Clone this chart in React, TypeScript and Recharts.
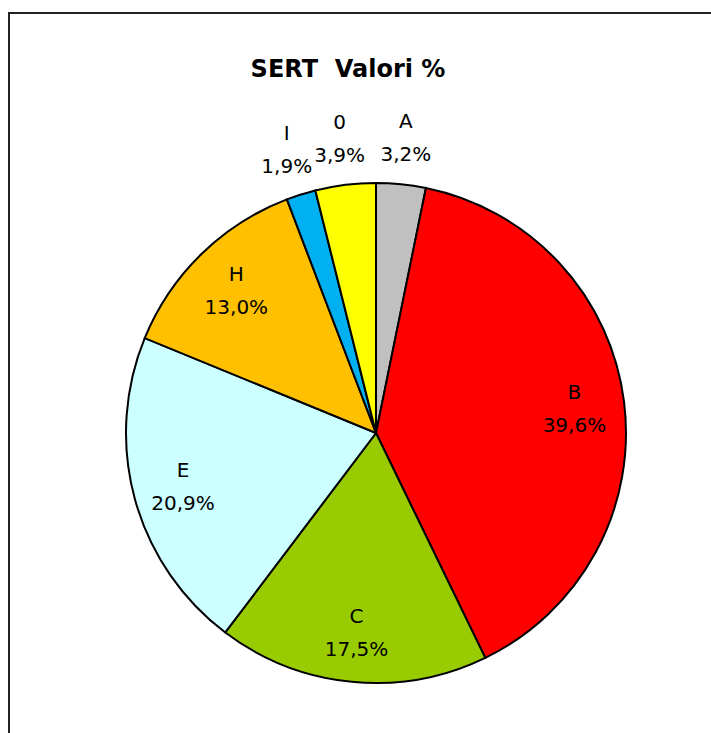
import React from "react";
import { PieChart, Pie, Cell } from "recharts";

const categories = ["A", "B", "C", "E", "H", "I", "0"];
const values = [3.2, 39.6, 17.5, 20.9, 13.0, 1.9, 3.9];
const colors = ["#C0C0C0", "#FF0000", "#99CC00", "#CCFFFF", "#FFC000", "#00B0F0", "#FFFF00"];

const data = categories.map((name, i) => ({ name, value: values[i] }));

const FONT = "'DejaVu Sans', sans-serif";
const RAD = Math.PI / 180;

const renderLabel = (props: any) => {
  const { cx, cy, midAngle, outerRadius, percent, name } = props;
  const r = percent < 0.05 ? outerRadius * 1.19 : outerRadius * 0.8;
  const x = cx + r * Math.cos(-midAngle * RAD);
  const y = cy + r * Math.sin(-midAngle * RAD);
  const pct = (percent * 100).toFixed(1).replace(".", ",") + "%";
  return (
    <text
      x={x}
      y={y}
      textAnchor="middle"
      fontFamily={FONT}
      fontSize={20}
      fill="#000"
    >
      <tspan x={x} dy={-9}>{name}</tspan>
      <tspan x={x} dy={33}>{pct}</tspan>
    </text>
  );
};

export default function App() {
  return (
    <div
      style={{
        position: "fixed",
        left: 0,
        top: 0,
        width: 711,
        height: 733,
        overflow: "hidden",
        background: "#fff",
      }}
    >
      <div
        style={{
          position: "absolute",
          left: 8,
          top: 12,
          width: 800,
          height: 800,
          border: "2px solid #222",
          boxSizing: "border-box",
        }}
      />
      <div
        style={{
          position: "absolute",
          left: 198,
          width: 300,
          top: 55,
          textAlign: "center",
          fontFamily: FONT,
          fontWeight: "bold",
          fontSize: 24,
          whiteSpace: "pre",
        }}
      >
        {"SERT  Valori %"}
      </div>
      <div style={{ position: "absolute", left: 0, top: 0 }}>
        <PieChart width={711} height={733}>
          <Pie
            data={data}
            dataKey="value"
            nameKey="name"
            cx={371}
            cy={428}
            outerRadius={250}
            startAngle={90}
            endAngle={-270}
            stroke="#000"
            strokeWidth={2}
            label={renderLabel}
            labelLine={false}
            isAnimationActive={false}
          >
            {data.map((d, i) => (
              <Cell key={d.name} fill={colors[i]} />
            ))}
          </Pie>
        </PieChart>
      </div>
    </div>
  );
}
